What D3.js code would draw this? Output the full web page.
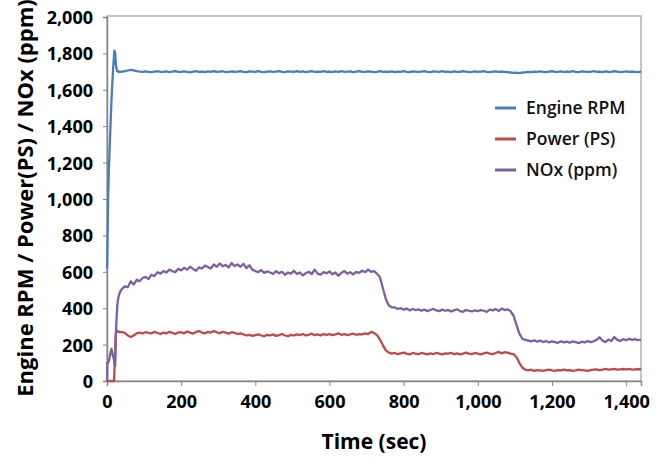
<!DOCTYPE html>
<html>
<head>
<meta charset="utf-8">
<script src="https://cdn.jsdelivr.net/npm/d3@7"></script>
<style>
  html, body { margin: 0; padding: 0; background: #fff; }
  svg { display: block; }
</style>
</head>
<body>
<svg id="chart" width="662" height="457"></svg>
<script>
// Start-up phase (first 40 s) logged at irregular instants
const startTimes = [0, 1, 3, 5, 9, 12, 16, 19, 20, 22, 23, 24, 26, 28, 30, 32, 34, 36];
const startRpm   = [620, 700, 1000, 1160, 1380, 1540, 1700, 1790, 1815, 1805, 1770, 1740, 1712, 1702, 1700, 1698, 1701, 1699];
const startPower = [0, 0, 0, 0, 0, 0, 0, 0, 60, 160, 230, 262, 272, 276, 272, 270, 268, 270];
const startNox   = [0, 100, 100, 110, 150, 176, 140, 115, 100, 83, 150, 260, 352, 420, 450, 470, 482, 492];

// Steady logging from 40 s to 1440 s, every 8 s
const logStart = 40, logStep = 8, logEnd = 1440;

const rpm = [
  1700, 1702, 1706, 1710, 1707, 1703, 1700, 1698, 1701, 1699,
  1697, 1700, 1702, 1698, 1699, 1701, 1697, 1700, 1703, 1699,
  1698, 1701, 1699, 1696, 1700, 1702, 1698, 1700, 1697, 1701,
  1699, 1703, 1698, 1700, 1702, 1697, 1699, 1701, 1698, 1700,
  1702, 1699, 1697, 1701, 1700, 1698, 1703, 1699, 1697, 1700,
  1701, 1698, 1700, 1702, 1699, 1697, 1701, 1700, 1698, 1703,
  1699, 1701, 1697, 1700, 1702, 1698, 1700, 1699, 1703, 1698,
  1700, 1697, 1701, 1699, 1702, 1698, 1700, 1701, 1697, 1700,
  1702, 1699, 1698, 1701, 1700, 1697, 1699, 1702, 1698, 1700,
  1699, 1701, 1697, 1700, 1698, 1702, 1699, 1697, 1701, 1700,
  1698, 1700, 1702, 1699, 1697, 1701, 1700, 1698, 1702, 1699,
  1700, 1697, 1701, 1699, 1698, 1702, 1700, 1697, 1699, 1701,
  1698, 1700, 1702, 1699, 1697, 1700, 1701, 1698, 1700, 1699,
  1697, 1695, 1693, 1694, 1692, 1695, 1696, 1699, 1697, 1700,
  1698, 1701, 1699, 1697, 1700, 1702, 1698, 1699, 1701, 1697,
  1700, 1698, 1702, 1699, 1697, 1701, 1700, 1698, 1699, 1702,
  1698, 1700, 1697, 1701, 1699, 1698, 1702, 1700, 1697, 1699,
  1701, 1698, 1700, 1699, 1697, 1700
];

const power = [
  268, 264, 250, 242, 250, 262, 266, 262, 268, 264,
  262, 270, 264, 258, 266, 262, 270, 264, 258, 266,
  268, 262, 272, 266, 260, 270, 274, 266, 262, 270,
  266, 274, 268, 262, 270, 266, 260, 268, 264, 258,
  262, 256, 250, 254, 248, 252, 256, 250, 246, 254,
  250, 256, 248, 252, 258, 250, 246, 254, 250, 256,
  252, 258, 250, 254, 260, 252, 256, 250, 258, 254,
  258, 252, 256, 262, 254, 258, 252, 256, 260, 254,
  258, 256, 262, 258, 270, 264, 252, 228, 196, 168,
  156, 150, 154, 148, 152, 156, 150, 146, 154, 150,
  148, 154, 150, 146, 152, 148, 154, 150, 146, 152,
  150, 154, 148, 152, 146, 150, 156, 150, 148, 154,
  150, 146, 152, 156, 150, 148, 154, 160, 152, 158,
  156, 150, 148, 132, 100, 74, 62, 58, 62, 56,
  60, 58, 56, 60, 62, 58, 56, 60, 58, 62,
  58, 60, 56, 58, 62, 60, 58, 56, 60, 62,
  64, 60, 62, 66, 62, 64, 66, 62, 64, 66,
  64, 66, 62, 64, 66, 64
];

const nox = [
  505, 520, 515, 548, 530, 556, 548, 566, 572, 560,
  584, 576, 598, 590, 604, 596, 612, 604, 598, 616,
  608, 622, 612, 628, 616, 606, 624, 618, 634, 626,
  618, 640, 628, 646, 630, 638, 624, 648, 632, 640,
  628, 644, 620, 636, 612, 604, 598, 610, 594, 602,
  596, 588, 604, 592, 600, 584, 596, 590, 606, 588,
  596, 580, 592, 600, 588, 612, 590, 584, 598, 592,
  602, 586, 596, 578, 594, 604, 590, 598, 586, 600,
  594, 606, 598, 612, 600, 604, 590, 570, 510, 450,
  415, 405, 404, 396, 400, 392, 398, 388, 396, 390,
  394, 386, 392, 384, 390, 396, 388, 384, 392, 386,
  390, 382, 388, 394, 384, 380, 390, 386, 382, 388,
  384, 390, 386, 380, 392, 388, 396, 384, 398, 390,
  394, 384, 360, 310, 260, 232, 226, 222, 218, 224,
  216, 222, 214, 220, 212, 218, 214, 210, 218, 212,
  216, 210, 218, 214, 208, 216, 212, 220, 214, 218,
  226, 240, 222, 214, 228, 220, 242, 226, 220, 230,
  224, 232, 226, 230, 224, 228
];

const yTicks = [0, 200, 400, 600, 800, 1000, 1200, 1400, 1600, 1800, 2000];
const xTicks = [0, 200, 400, 600, 800, 1000, 1200, 1400];

const seriesNames  = ["Engine RPM", "Power (PS)", "NOx (ppm)"];
const seriesColors = ["#4a7ebb", "#be4b48", "#7d60a0"];

// ---- assemble the three series ----
const logTimes = d3.range(logStart, logEnd + 1, logStep);
function join(startVals, logVals) {
  return startTimes.map((t, i) => ({ t, v: startVals[i] }))
    .concat(logTimes.map((t, i) => ({ t, v: logVals[i] })));
}
const series = [join(startRpm, rpm), join(startPower, power), join(startNox, nox)];

// ---- layout ----
const svg = d3.select("#chart");
const plot = { left: 107, right: 641, top: 17, bottom: 381 };

const x = d3.scaleLinear().domain([0, 1440]).range([plot.left, plot.right]);
const y = d3.scaleLinear().domain([0, 2000]).range([plot.bottom, plot.top]);

const tickFont = "'Open Sans', 'DejaVu Sans', sans-serif";

// plot-area frame
svg.append("rect")
  .attr("x", plot.left).attr("y", plot.top - 1)
  .attr("width", plot.right - plot.left).attr("height", plot.bottom - plot.top + 1)
  .attr("fill", "none").attr("stroke", "#a6a6a6").attr("stroke-width", 1.3);

// y axis
const yAxis = svg.append("g")
  .attr("transform", `translate(${plot.left},0)`)
  .call(d3.axisLeft(y).tickValues(yTicks).tickSize(4).tickPadding(10)
    .tickFormat(d3.format(",")));
yAxis.select(".domain").attr("stroke", "#868686").attr("stroke-width", 1.5);
yAxis.selectAll(".tick line").attr("stroke", "#868686");
yAxis.selectAll("text")
  .attr("font-family", tickFont).attr("font-weight", "bold")
  .attr("font-size", 18).attr("fill", "#000").attr("dy", "0.36em");

// x axis
const xAxis = svg.append("g")
  .attr("transform", `translate(0,${plot.bottom})`)
  .call(d3.axisBottom(x).tickValues(xTicks).tickSize(5).tickPadding(9)
    .tickFormat(d3.format(",")));
xAxis.select(".domain").attr("stroke", "#868686").attr("stroke-width", 1.5);
xAxis.selectAll(".tick line").attr("stroke", "#868686");
xAxis.selectAll("text")
  .attr("font-family", tickFont).attr("font-weight", "bold")
  .attr("font-size", 18).attr("fill", "#000");

// series lines
const line = d3.line().x(d => x(d.t)).y(d => y(d.v));
svg.append("g").selectAll("path")
  .data(series)
  .join("path")
  .attr("d", line)
  .attr("fill", "none")
  .attr("stroke", (d, i) => seriesColors[i])
  .attr("stroke-width", 2.3)
  .attr("stroke-linejoin", "round");

// legend
const legend = svg.append("g").attr("transform", "translate(495,108)");
seriesNames.forEach((name, i) => {
  const g = legend.append("g").attr("transform", `translate(0,${i * 31})`);
  g.append("line").attr("x1", 0).attr("x2", 21).attr("y1", 0).attr("y2", 0)
    .attr("stroke", seriesColors[i]).attr("stroke-width", 3);
  g.append("text").attr("x", 31).attr("y", 0).attr("dy", "0.35em")
    .attr("font-family", tickFont).attr("font-size", 17.5).attr("font-weight", 600)
    .attr("fill", "#111")
    .text(name);
});

// axis titles
svg.append("text")
  .attr("transform", "translate(33,198) rotate(-90)")
  .attr("text-anchor", "middle")
  .attr("font-family", tickFont).attr("font-weight", "bold").attr("font-size", 22)
  .attr("fill", "#000")
  .text("Engine RPM / Power(PS) / NOx (ppm)");

svg.append("text")
  .attr("x", 374).attr("y", 449)
  .attr("text-anchor", "middle")
  .attr("font-family", tickFont).attr("font-weight", "bold").attr("font-size", 21)
  .attr("fill", "#000")
  .text("Time (sec)");
</script>
</body>
</html>
